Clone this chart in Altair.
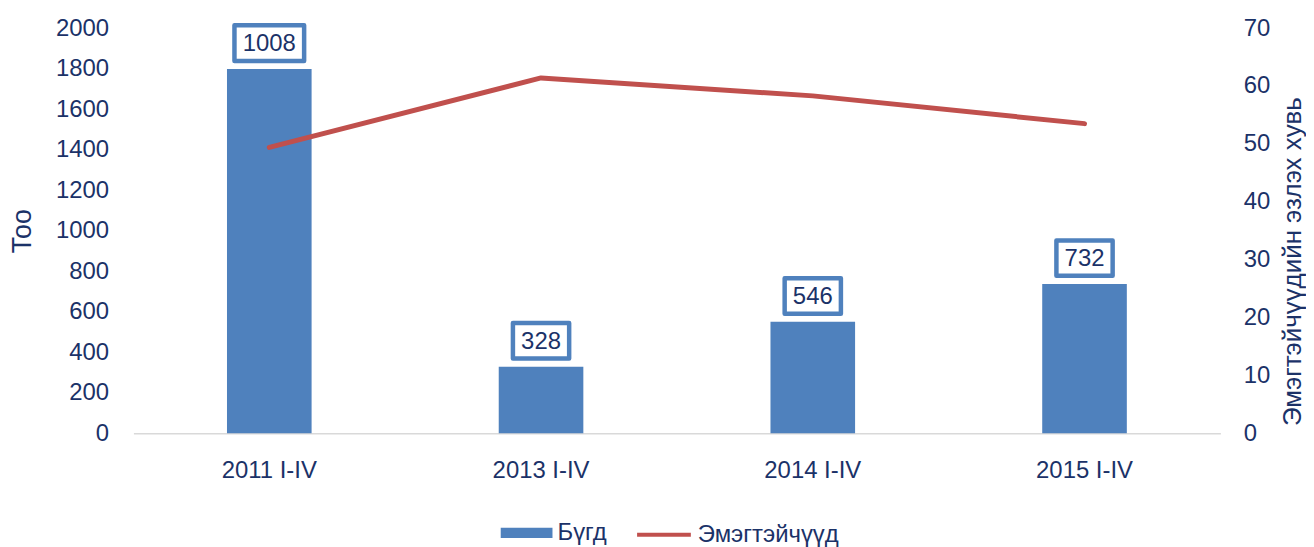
import altair as alt
import pandas as pd

periods = ["2011 I-IV", "2013 I-IV", "2014 I-IV", "2015 I-IV"]
total = [1798, 329, 550, 737]
total_labels = ["1008", "328", "546", "732"]
women_share = [49.4, 61.4, 58.3, 53.5]
series_names = ["Бүгд", "Эмэгтэйчүүд"]

df = pd.DataFrame({
    "period": periods,
    "total": total,
    "label": total_labels,
    "share": women_share,
    "s_total": [series_names[0]] * len(periods),
    "s_women": [series_names[1]] * len(periods),
})

FONT = "Liberation Sans"
NAVY = "#1B3268"
BLUE = "#4F81BD"
RED = "#C0504D"
FS = 24

x_enc = alt.X(
    "period:N", sort=periods, title=None,
    scale=alt.Scale(paddingInner=0, paddingOuter=0),
    axis=alt.Axis(labelAngle=0, ticks=False, domainColor="#D9D9D9", domainWidth=1.5,
                  labelPadding=25, labelFontSize=FS, labelColor=NAVY, labelFont=FONT),
)

y_left = alt.Y(
    "total:Q", title="Тоо",
    scale=alt.Scale(domain=[0, 2000]),
    axis=alt.Axis(values=list(range(0, 2001, 200)), format="d", grid=False, ticks=False,
                  domain=False, labelPadding=25, labelFontSize=FS, labelColor=NAVY,
                  labelFont=FONT, titleFontSize=27, titleColor=NAVY, titleFont=FONT,
                  titleFontWeight="normal", titlePadding=19),
)

base = alt.Chart(df)

bars = base.mark_bar(size=85).encode(
    x=x_enc,
    y=y_left,
    fill=alt.Fill(
        "s_total:N",
        scale=alt.Scale(domain=[series_names[0]], range=[BLUE]),
        legend=alt.Legend(
            title=None, orient="none", legendX=369, legendY=481,
            symbolType="M-1,-0.2H1V0.2H-1Z", symbolSize=2704, symbolStrokeWidth=0,
            labelFontSize=FS, labelColor=NAVY, labelFont=FONT, labelOffset=5,
        ),
    ),
)

box_style = dict(filled=True, fill="white", stroke=BLUE, strokeWidth=4.5,
                 opacity=1, strokeJoin="round", yOffset=-26)

box4 = base.transform_filter("length(datum.label) > 3").mark_point(
    shape="M-1,-0.514H1V0.514H-1Z", size=4900, **box_style
).encode(x=alt.X("period:N", sort=periods), y=alt.Y("total:Q"))

box3 = base.transform_filter("length(datum.label) <= 3").mark_point(
    shape="M-1,-0.628H1V0.628H-1Z", size=3192, **box_style
).encode(x=alt.X("period:N", sort=periods), y=alt.Y("total:Q"))

labels = base.mark_text(
    font=FONT, fontSize=FS, color=NAVY, baseline="middle", yOffset=-25
).encode(x=alt.X("period:N", sort=periods), y=alt.Y("total:Q"), text="label:N")

line = base.mark_line(strokeWidth=5, strokeCap="round", strokeJoin="round").encode(
    x=alt.X("period:N", sort=periods),
    y=alt.Y(
        "share:Q", title="Эмэгтэйчүүдийн эзлэх хувь",
        scale=alt.Scale(domain=[0, 70]),
        axis=alt.Axis(orient="right", values=list(range(0, 71, 10)), grid=False, ticks=False,
                      domain=False, labelPadding=23, labelFontSize=FS, labelColor=NAVY,
                      labelFont=FONT, titleFontSize=26, titleColor=NAVY, titleFont=FONT,
                      titleFontWeight="normal", titleAngle=270, titleBaseline="top",
                      titlePadding=10, titleY=234),
    ),
    stroke=alt.Stroke(
        "s_women:N",
        scale=alt.Scale(domain=[series_names[1]], range=[RED]),
        legend=alt.Legend(
            title=None, orient="none", legendX=504, legendY=480,
            symbolType="stroke", symbolSize=2916, symbolStrokeWidth=4,
            labelFontSize=FS, labelColor=NAVY, labelFont=FONT, labelOffset=5,
        ),
    ),
)

left = alt.layer(bars, box4, box3, labels)

chart = alt.layer(left, line).resolve_scale(
    y="independent", fill="independent", stroke="independent"
).properties(
    width=1092, height=407,
    autosize=alt.AutoSizeParams(type="none"),
    padding={"left": 126, "top": 19, "right": 86, "bottom": 113},
).configure_view(stroke=None)

chart.save("out.html", embed_options={"renderer": "svg", "actions": False})
